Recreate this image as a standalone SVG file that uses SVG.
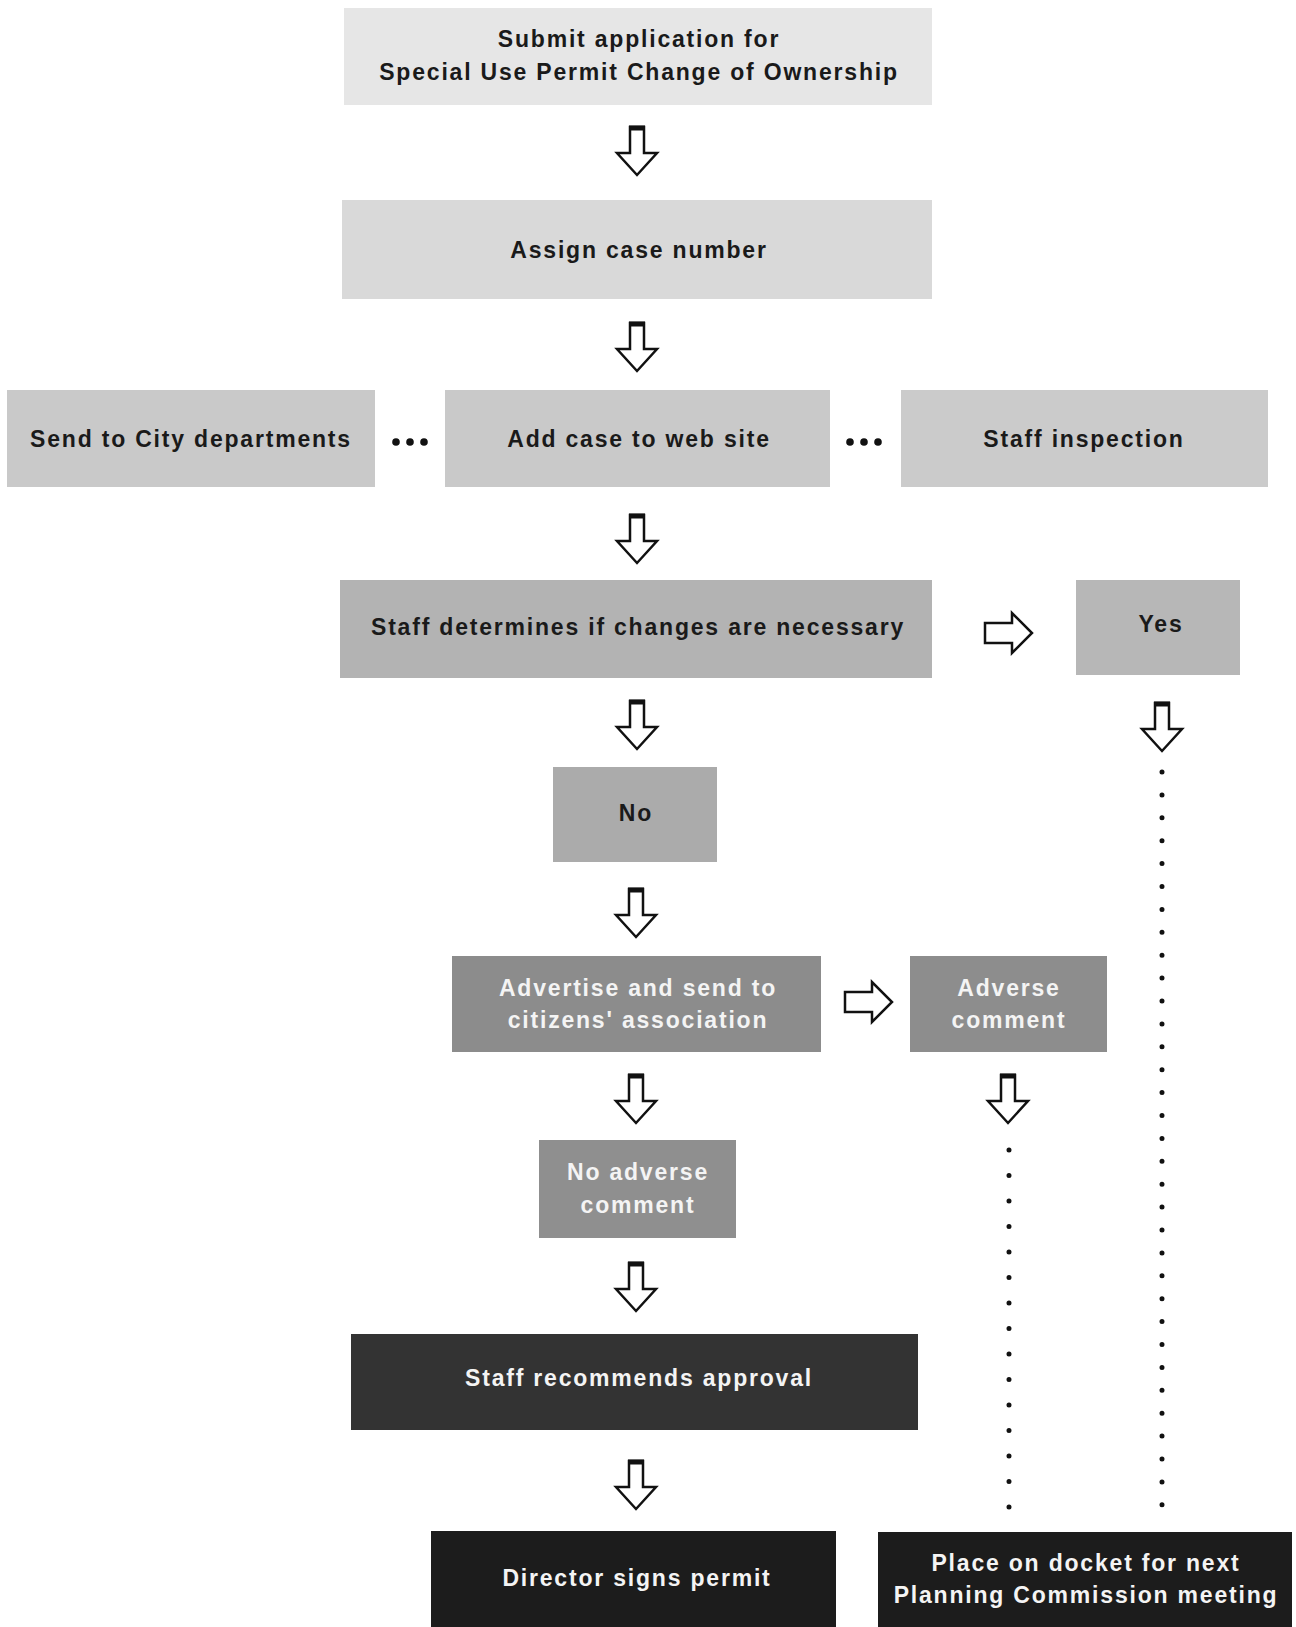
<svg xmlns="http://www.w3.org/2000/svg" xmlns:xlink="http://www.w3.org/1999/xlink" width="1296" height="1627" viewBox="0 0 1296 1627">
<style>
.t{font-family:"Liberation Sans",Arial,sans-serif;font-weight:bold;font-size:23px;letter-spacing:1.8px;text-anchor:middle}
.dk{fill:#1a1a1a}
.lt{fill:#f4f4f4}
.arr{fill:#ffffff;stroke:#111111;stroke-width:2.5;stroke-linejoin:miter}
.dots{fill:none;stroke:#111111;stroke-width:5;stroke-linecap:round}
</style>
<defs>
<g id="down">
<path class="arr" d="M-7,1 H7 V27 H20 L0,49 L-20,27 H-7 Z"/>
<line x1="-8" y1="2" x2="8" y2="2" stroke="#111" stroke-width="5"/>
</g>
<g id="right">
<path class="arr" d="M1,-10 H28 V-20 L48,0 L28,20 V10 H1 Z"/>
</g>
</defs>
<rect width="1296" height="1627" fill="#ffffff"/>

<g id="submit"><rect x="344" y="8" width="588" height="97" fill="#e6e6e6"/>
<text class="t dk" x="639" y="47">Submit application for</text>
<text class="t dk" x="639" y="80">Special Use Permit Change of Ownership</text></g>

<g id="assign"><rect x="342" y="200" width="590" height="99" fill="#d9d9d9"/>
<text class="t dk" x="639" y="258">Assign case number</text></g>

<g id="send"><rect x="7" y="390" width="368" height="97" fill="#c9c9c9"/>
<text class="t dk" x="191" y="447">Send to City departments</text></g>

<g id="addcase"><rect x="445" y="390" width="385" height="97" fill="#c9c9c9"/>
<text class="t dk" x="639" y="447">Add case to web site</text></g>

<g id="inspection"><rect x="901" y="390" width="367" height="97" fill="#cbcbcb"/>
<text class="t dk" x="1084" y="447">Staff inspection</text></g>

<g id="determines"><rect x="340" y="580" width="592" height="98" fill="#b3b3b3"/>
<text class="t dk" x="638" y="635">Staff determines if changes are necessary</text></g>

<g id="yes"><rect x="1076" y="580" width="164" height="95" fill="#b7b7b7"/>
<text class="t dk" x="1161" y="632">Yes</text></g>

<g id="no"><rect x="553" y="767" width="164" height="95" fill="#ababab"/>
<text class="t dk" x="636" y="821">No</text></g>

<g id="advertise"><rect x="452" y="956" width="369" height="96" fill="#8c8c8c"/>
<text class="t lt" x="638" y="996">Advertise and send to</text>
<text class="t lt" x="638" y="1028">citizens' association</text></g>

<g id="adverse"><rect x="910" y="956" width="197" height="96" fill="#8d8d8d"/>
<text class="t lt" x="1009" y="996">Adverse</text>
<text class="t lt" x="1009" y="1028">comment</text></g>

<g id="noadverse"><rect x="539" y="1140" width="197" height="98" fill="#8f8f8f"/>
<text class="t lt" x="638" y="1180">No adverse</text>
<text class="t lt" x="638" y="1213">comment</text></g>

<g id="recommends"><rect x="351" y="1334" width="567" height="96" fill="#333333"/>
<text class="t lt" x="639" y="1386">Staff recommends approval</text></g>

<g id="director"><rect x="431" y="1531" width="405" height="96" fill="#1c1c1c"/>
<text class="t lt" x="637" y="1586">Director signs permit</text></g>

<g id="docket"><rect x="878" y="1532" width="414" height="95" fill="#1c1c1c"/>
<text class="t lt" x="1086" y="1571">Place on docket for next</text>
<text class="t lt" x="1086" y="1603">Planning Commission meeting</text></g>

<g id="connectors">
<use xlink:href="#down" x="637" y="126"/>
<use xlink:href="#down" x="637" y="322"/>
<use xlink:href="#down" x="637" y="514"/>
<use xlink:href="#down" x="637" y="700"/>
<use xlink:href="#down" x="1162" y="702"/>
<use xlink:href="#down" x="636" y="888"/>
<use xlink:href="#down" x="636" y="1074"/>
<use xlink:href="#down" x="1008" y="1074"/>
<use xlink:href="#down" x="636" y="1262"/>
<use xlink:href="#down" x="636" y="1460"/>
<use xlink:href="#right" x="984" y="633"/>
<use xlink:href="#right" x="844" y="1002"/>
<g fill="#111111">
<circle cx="396" cy="442" r="3.8"/><circle cx="410" cy="442" r="3.8"/><circle cx="424" cy="442" r="3.8"/>
<circle cx="850" cy="442" r="3.8"/><circle cx="864" cy="442" r="3.8"/><circle cx="878" cy="442" r="3.8"/>
</g>
<line class="dots" x1="1162" y1="772" x2="1162" y2="1508" stroke-dasharray="0 22.9"/>
<line class="dots" x1="1009" y1="1150" x2="1009" y2="1509" stroke-dasharray="0 25.5"/>
</g>
</svg>
